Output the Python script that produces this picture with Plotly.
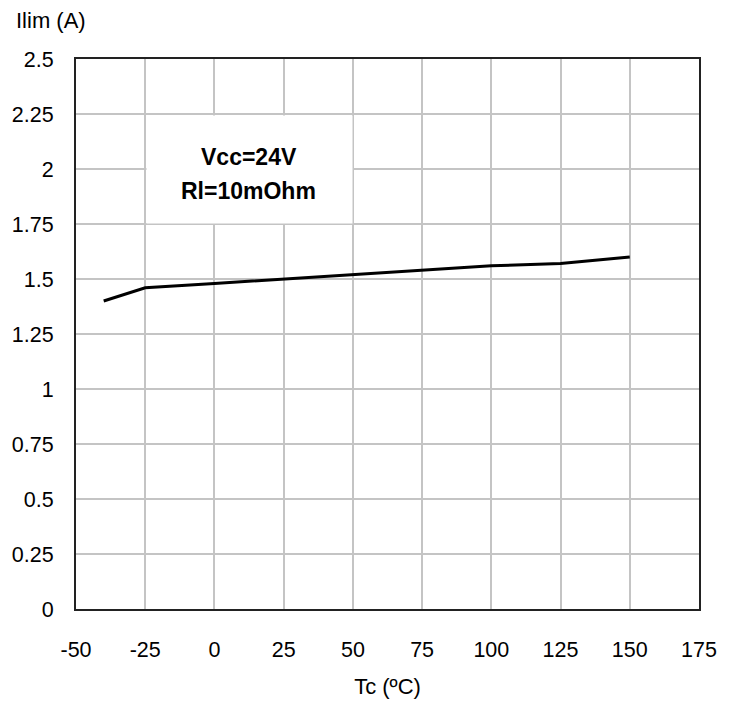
import plotly.graph_objects as go

temps = [-40, -25, 0, 25, 50, 75, 100, 125, 150]
ilim = [1.40, 1.46, 1.48, 1.50, 1.52, 1.54, 1.56, 1.57, 1.60]
x_ticks = [-50, -25, 0, 25, 50, 75, 100, 125, 150, 175]
x_tick_text = ["-50", "-25", "0", "25", "50", "75", "100", "125", "150", "175"]
y_ticks = [0, 0.25, 0.5, 0.75, 1, 1.25, 1.5, 1.75, 2, 2.25, 2.5]
y_tick_text = ["0", "0.25", "0.5", "0.75", "1", "1.25", "1.5", "1.75", "2", "2.25", "2.5"]

FONT = "Liberation Sans, Arial, sans-serif"

fig = go.Figure()
fig.add_trace(go.Scatter(x=temps, y=ilim, mode="lines",
                         line=dict(color="black", width=3), showlegend=False))

fig.update_layout(
    width=729, height=707,
    margin=dict(l=75, r=22, t=59, b=94),
    paper_bgcolor="white", plot_bgcolor="white",
    font=dict(family=FONT, color="black", size=21.5),
    xaxis=dict(range=[-50, 175], tickmode="array", tickvals=x_ticks, ticktext=x_tick_text,
               showgrid=True, gridcolor="#c4c4c4", gridwidth=1.5,
               showline=True, linecolor="#222", linewidth=2, mirror=True,
               zeroline=False, ticks="", ticklabelstandoff=20,
               title=dict(text="Tc (ºC)", font=dict(size=22), standoff=18)),
    yaxis=dict(range=[0, 2.5], tickmode="array", tickvals=y_ticks, ticktext=y_tick_text,
               showgrid=True, gridcolor="#c4c4c4", gridwidth=1.5,
               showline=True, linecolor="#222", linewidth=2, mirror=True,
               zeroline=False, ticks="", ticklabelstandoff=16),
    annotations=[
        dict(text="Ilim (A)", xref="paper", yref="paper", x=-0.1, y=1.0,
             xanchor="left", yanchor="bottom", yshift=24, showarrow=False,
             font=dict(size=22)),
        dict(text=" ", xref="x", yref="y", x=12.8, y=2.0, xanchor="center",
             yanchor="middle", showarrow=False, bgcolor="white", width=203, height=105),
        dict(text="<b>Vcc=24V</b>", xref="x", yref="y", x=12.3, y=2.053,
             xanchor="center", yanchor="middle", showarrow=False, font=dict(size=23)),
        dict(text="<b>Rl=10mOhm</b>", xref="x", yref="y", x=12.3, y=1.90,
             xanchor="center", yanchor="middle", showarrow=False, font=dict(size=23)),
    ],
)

fig.write_html("out.html")
